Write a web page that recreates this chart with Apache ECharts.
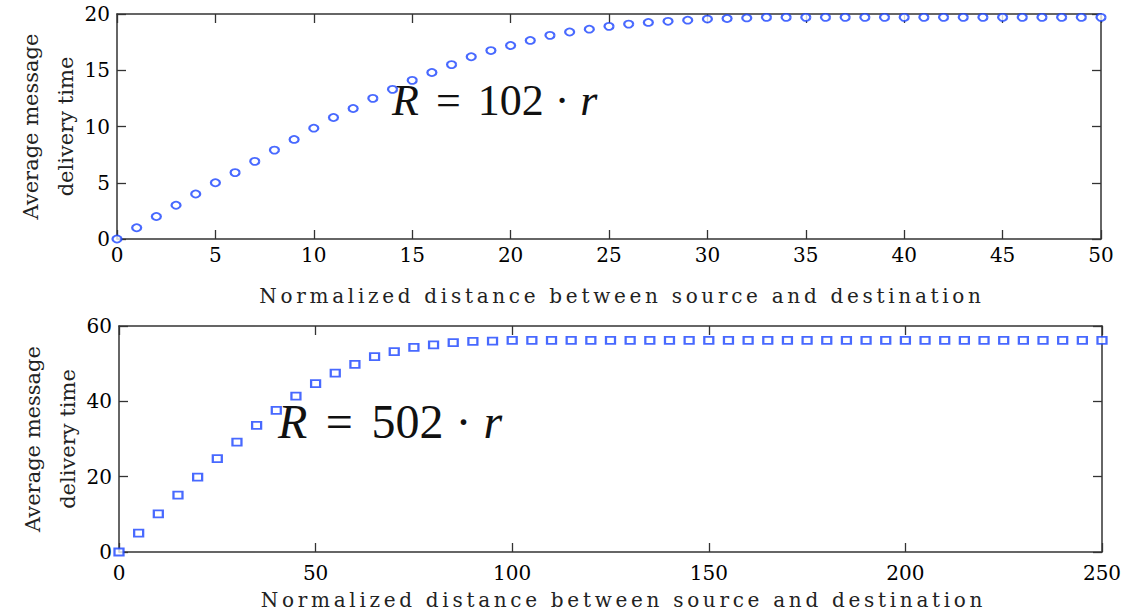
<!DOCTYPE html>
<html>
<head>
<meta charset="utf-8">
<script src="https://cdn.jsdelivr.net/npm/echarts@6/dist/echarts.min.js"></script>
<style>
  html, body { margin: 0; padding: 0; background: #fff; }
  #chart { width: 1123px; height: 611px; }
</style>
</head>
<body>
<div id="chart"></div>
<script>
// upper panel, R = 102 r
const topDist = [0, 1, 2, 3, 4, 5, 6, 7, 8, 9, 10, 11, 12, 13, 14, 15, 16, 17, 18, 19, 20,
  21, 22, 23, 24, 25, 26, 27, 28, 29, 30, 31, 32, 33, 34, 35, 36, 37, 38, 39, 40,
  41, 42, 43, 44, 45, 46, 47, 48, 49, 50]
const topTime = [0, 1.0, 2.0, 3.0, 4.0, 5.0, 5.9, 6.9, 7.9, 8.85, 9.85, 10.8, 11.6, 12.5, 13.3,
  14.1, 14.8, 15.5, 16.2, 16.75, 17.2, 17.65, 18.1, 18.4, 18.65, 18.9, 19.1, 19.25, 19.35,
  19.45, 19.55, 19.6, 19.65, 19.7, 19.7, 19.7, 19.7, 19.7, 19.7, 19.7, 19.7, 19.7, 19.7,
  19.7, 19.7, 19.7, 19.7, 19.7, 19.7, 19.7, 19.7]

// lower panel, R = 502 r
const bottomDist = [0, 5, 10, 15, 20, 25, 30, 35, 40, 45, 50, 55, 60, 65, 70, 75, 80, 85, 90, 95,
  100, 105, 110, 115, 120, 125, 130, 135, 140, 145, 150, 155, 160, 165, 170, 175, 180, 185,
  190, 195, 200, 205, 210, 215, 220, 225, 230, 235, 240, 245, 250]
const bottomTime = [0, 5.0, 10.1, 15.1, 19.9, 24.8, 29.2, 33.6, 37.6, 41.4, 44.7, 47.5, 49.8,
  51.9, 53.2, 54.3, 55.0, 55.6, 55.9, 56.0, 56.2, 56.2, 56.2, 56.2, 56.2, 56.2, 56.2, 56.2,
  56.2, 56.2, 56.2, 56.2, 56.2, 56.2, 56.2, 56.2, 56.2, 56.2, 56.2, 56.2, 56.2, 56.2, 56.2,
  56.2, 56.2, 56.2, 56.2, 56.2, 56.2, 56.2, 56.2]

const xName = 'Normalized distance between source and destination'
const yName = 'Average message\ndelivery time'

const serif = 'DejaVu Serif'
const lineColor = '#333'
const markColor = '#1a44ff'

const chart = echarts.init(document.getElementById('chart'), null, { renderer: 'svg' })

// one visible axis + one mirrored axis with inward ticks, like a matlab box
const makeX = (grid, max, interval, labelMargin, gap) => ([
  {
    type: 'value', gridIndex: grid, min: 0, max: max, interval: interval, position: 'bottom',
    axisLine: { onZero: false, lineStyle: { color: lineColor, width: 1.5 } },
    axisTick: { inside: true, length: 9, lineStyle: { color: lineColor, width: 1.3 } },
    axisLabel: { margin: labelMargin, fontFamily: serif, fontSize: 20, color: '#000' },
    splitLine: { show: false },
    name: xName, nameLocation: 'middle', nameGap: gap,
    nameTextStyle: { fontFamily: serif, fontSize: 20, color: '#222', padding: [0, 0, 0, 26] }
  },
  {
    type: 'value', gridIndex: grid, min: 0, max: max, interval: interval, position: 'top',
    axisLine: { onZero: false, lineStyle: { color: lineColor, width: 1.5 } },
    axisTick: { inside: true, length: 9, lineStyle: { color: lineColor, width: 1.3 } },
    axisLabel: { show: false },
    splitLine: { show: false }
  }
])

const makeY = (grid, max, interval) => ([
  {
    type: 'value', gridIndex: grid, min: 0, max: max, interval: interval, position: 'left',
    axisLine: { show: true, onZero: false, lineStyle: { color: lineColor, width: 1.5 } },
    axisTick: { show: true, inside: true, length: 9, lineStyle: { color: lineColor, width: 1.3 } },
    axisLabel: { margin: 7, fontFamily: serif, fontSize: 20, color: '#000' },
    splitLine: { show: false },
    name: yName, nameLocation: 'middle', nameRotate: 90, nameGap: 34, nameMoveOverlap: false,
    nameTextStyle: { fontFamily: serif, fontSize: 21, lineHeight: 35, color: '#222', align: 'center' }
  },
  {
    type: 'value', gridIndex: grid, min: 0, max: max, interval: interval, position: 'right',
    axisLine: { show: true, onZero: false, lineStyle: { color: lineColor, width: 1.5 } },
    axisTick: { show: true, inside: true, length: 9, lineStyle: { color: lineColor, width: 1.3 } },
    axisLabel: { show: false },
    splitLine: { show: false }
  }
])

// "R = ... · r" written with spacing close to the tex original
const mathText = (num, x, y, size) => {
  const k = size / 44
  return {
    type: 'text',
    x: x,
    y: y,
    style: {
      text: '{i|R}{op|=}{n|' + num + '}{dot|·}{i|r}',
      font: size + 'px Liberation Serif',
      fill: '#111',
      verticalAlign: 'middle',
      rich: {
        i: { fontStyle: 'italic', fontFamily: 'Liberation Serif', fontSize: size, fill: '#111' },
        op: { fontFamily: 'Liberation Serif', fontSize: size, fill: '#111', padding: [0, 17 * k] },
        n: { fontFamily: 'Liberation Serif', fontSize: size, fill: '#111' },
        dot: { fontFamily: 'Liberation Serif', fontSize: size, fill: '#111', padding: [0, 11 * k] }
      }
    }
  }
}

const options = {
  animation: false,
  backgroundColor: '#fff',
  grid: [
    { left: 117, top: 14, width: 984, height: 225, outerBoundsMode: 'none' },
    { left: 119, top: 326, width: 983, height: 226, outerBoundsMode: 'none' }
  ],
  xAxis: [...makeX(0, 50, 5, 6, 47), ...makeX(1, 250, 50, 11, 38)],
  yAxis: [...makeY(0, 20, 5), ...makeY(1, 60, 20)],
  graphic: [
    mathText('102', 392, 100, 44),
    mathText('502', 278, 421, 48)
  ],
  series: [
    {
      type: 'scatter', xAxisIndex: 0, yAxisIndex: 0, clip: false,
      symbol: 'emptyCircle', symbolSize: [9, 7],
      itemStyle: { color: markColor, borderColor: markColor, borderWidth: 1.5 },
      data: topDist.map((d, i) => [d, topTime[i]])
    },
    {
      type: 'scatter', xAxisIndex: 2, yAxisIndex: 2, clip: false,
      symbol: 'emptyRect', symbolSize: [9, 7],
      itemStyle: { color: markColor, borderColor: markColor, borderWidth: 1.5 },
      data: bottomDist.map((d, i) => [d, bottomTime[i]])
    }
  ]
}

chart.setOption(options)

// the x titles are letter-spaced in the original figure
const spaceTitles = () => {
  document.querySelectorAll('#chart text').forEach(el => {
    if (el.textContent.indexOf('Normalized') === 0) el.style.letterSpacing = '3.7px'
  })
}
chart.on('finished', spaceTitles)
chart.getZr().refreshImmediately()
spaceTitles()
</script>
</body>
</html>
